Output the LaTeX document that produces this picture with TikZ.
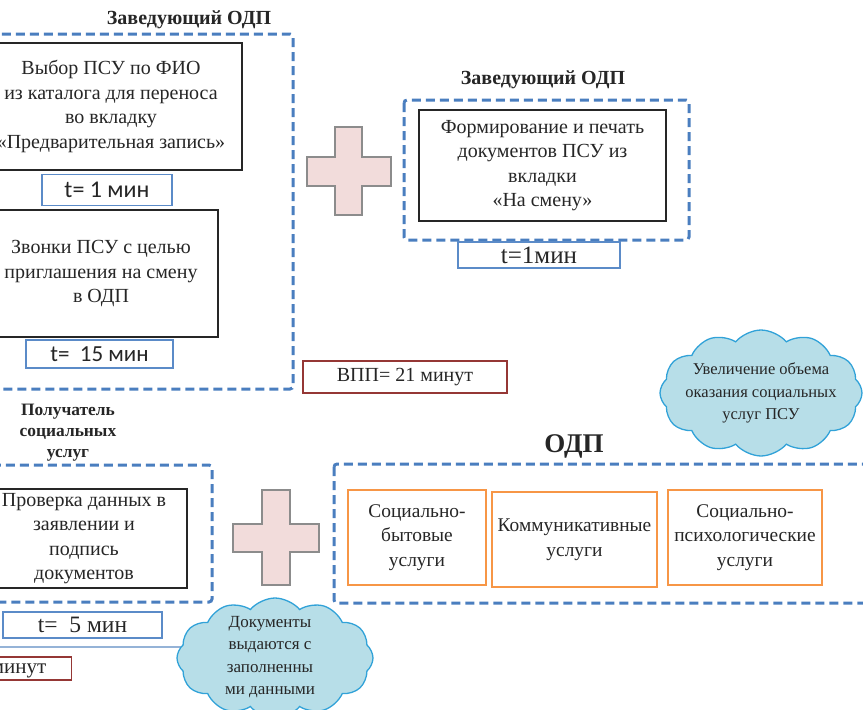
\documentclass[tikz,border=0pt]{standalone}
\usepackage{fontspec}
\setmainfont{Liberation Serif}
\newfontfamily\calibri{Carlito}
\usetikzlibrary{shapes.symbols}
\definecolor{dashblue}{HTML}{4A7EBF}
\definecolor{tblue}{HTML}{5B8BC8}
\definecolor{vppred}{HTML}{953735}
\definecolor{orng}{HTML}{F79646}
\definecolor{pinkf}{HTML}{F2DCDB}
\definecolor{crossgray}{HTML}{8C8C8C}
\definecolor{cloudf}{HTML}{B7DEE8}
\definecolor{cloudd}{HTML}{31A2D8}
\definecolor{linebl}{HTML}{95B3D7}
\definecolor{txt}{HTML}{262626}
\tikzset{
  blk/.style={draw=black!85, line width=1.3pt, fill=white, align=center, inner sep=0pt, text=txt,
    font=\fontsize{20}{24.5}\selectfont},
  tbox/.style={draw=tblue, line width=1.2pt, fill=white, inner sep=0pt, text=txt},
  region/.style={draw=dashblue, line width=3pt, dash pattern=on 9pt off 5pt, rounded corners=3pt},
  ttl/.style={font=\bfseries\fontsize{20}{24}\selectfont, align=center, text=txt},
  obox/.style={draw=orng, line width=1.3pt, fill=white, align=center, inner sep=0pt, text=txt,
    font=\fontsize{19.4}{24.5}\selectfont},
  cloudn/.style={cloud, cloud puffs=12, cloud puff arc=100, cloud ignores aspect, draw=cloudd, fill=cloudf, line width=1.3pt,
    inner sep=0pt},
  cloudtxt/.style={align=center, inner sep=0pt, text=txt},
  plusfill/.style={fill=pinkf, draw=crossgray, line width=1.3pt},
}
\begin{document}
\begin{tikzpicture}[x=1pt,y=-1pt]
\useasboundingbox (0,0) rectangle (863,710);
\clip (0,0) rectangle (863,710);

% ---------- top-left region ----------
\node[ttl] (t1title) at (189,20) {Заведующий ОДП};
\draw[region] (-10,34) rectangle (293,389);
\node[blk, minimum width=262pt, minimum height=127pt] (box1) at (111,106.5)
  {Выбор ПСУ по ФИО\\из каталога для переноса\\во вкладку\\«Предварительная запись»};
\node[tbox, minimum width=130pt, minimum height=31pt, font=\calibri\fontsize{24}{26}\selectfont] (tm1) at (107,190) {t= 1 мин};
\node[blk, minimum width=234pt, minimum height=127pt] (box2) at (101,273.5)
  {Звонки ПСУ с целью\\приглашения на смену\\в ОДП};
\node[tbox, minimum width=147pt, minimum height=28pt, font=\calibri\fontsize{23}{25}\selectfont] (tm15) at (99.5,354) {t=\ \ 15 мин};
\node[draw=vppred, line width=1.3pt, fill=white, minimum width=204pt, minimum height=32pt, inner sep=0pt, text=txt,
  font=\fontsize{20}{22}\selectfont] (vpp) at (405,377) {ВПП= 21 минут};

% plus 1
\path[plusfill] (335,127) -- (362,127) -- (362,157) -- (391,157) -- (391,186) -- (362,186) -- (362,215)
  -- (335,215) -- (335,186) -- (307,186) -- (307,157) -- (335,157) -- cycle;

% ---------- top-right region ----------
\node[ttl] (t2title) at (543,80) {Заведующий ОДП};
\draw[region] (404,100) rectangle (689,240);
\node[blk, minimum width=247pt, minimum height=111pt] (box3) at (542.5,165.5)
  {Формирование и печать\\документов ПСУ из\\вкладки\\«На смену»};
\node[tbox, minimum width=162pt, minimum height=26pt, font=\fontsize{25}{26}\selectfont] (tm1b) at (539,255) {t=1мин};

% cloud 1
\node[cloudn, minimum width=202pt, minimum height=126pt] (cl1) at (761,393) {};
\node[cloudtxt, font=\fontsize{16.5}{22.5}\selectfont] (cl1t) at (cl1.center)
  {Увеличение объема\\оказания социальных\\услуг ПСУ};

% ---------- ODP region ----------
\node[font=\bfseries\fontsize{27}{30}\selectfont, text=txt] (odp) at (574,446) {ОДП};
\draw[region] (334,464) rectangle (880,603);
\node[obox, minimum width=138pt, minimum height=95pt] (s1) at (417,537.5) {Социально-\\бытовые\\услуги};
\node[obox, minimum width=165pt, minimum height=95pt] (s2) at (574.5,539.5) {Коммуникативные\\услуги};
\node[obox, minimum width=154pt, minimum height=95pt] (s3) at (745,537.5) {Социально-\\психологические\\услуги};

% ---------- bottom-left region ----------
\node[ttl, font=\bfseries\fontsize{17.4}{21}\selectfont] (t3title) at (68,433) {Получатель\\социальных\\услуг};
\draw[region] (-10,465) rectangle (212,602);
\node[blk, minimum width=206pt, minimum height=99pt, font=\fontsize{20}{24.3}\selectfont] (box4) at (84,538.5)
  {Проверка данных в\\заявлении и\\подпись\\документов};
\node[tbox, minimum width=159pt, minimum height=26pt, font=\fontsize{23.5}{25}\selectfont] (tm5) at (82.5,625) {t=\ \ 5 мин};

% plus 2
\path[plusfill] (262,490) -- (290,490) -- (290,524) -- (319,524) -- (319,552) -- (290,552) -- (290,585)
  -- (262,585) -- (262,552) -- (233,552) -- (233,524) -- (262,524) -- cycle;

% line to cloud 2
\coordinate (lstart) at (-5,647);
\coordinate (lend) at (195,647);
\draw[linebl, line width=1.5pt] (lstart) -- (lend);

\node[draw=vppred, line width=1.3pt, fill=white, minimum height=23pt, inner sep=0pt, text=txt,
  font=\fontsize{21}{22}\selectfont, anchor=east, text width=200pt, align=right] (vpp2) at (72,668.5) {ВПП= 5 минут\hspace*{25pt}};

% cloud 2
\node[cloudn, minimum width=196pt, minimum height=120pt] (cl2) at (275,658) {};
\node[cloudtxt, font=\fontsize{17}{22.5}\selectfont] (cl2t) at (270,657)
  {Документы\\выдаются с\\заполненны\\ми данными};
\end{tikzpicture}
\end{document}
